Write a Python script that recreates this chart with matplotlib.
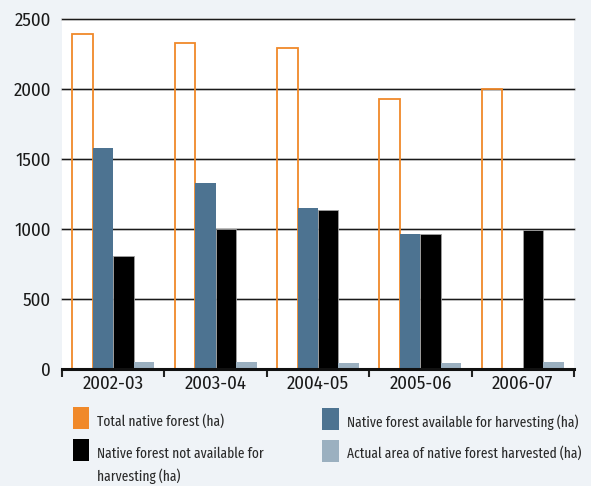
import matplotlib
matplotlib.use("Agg")
import matplotlib.pyplot as plt
import numpy as np
from matplotlib.patches import Rectangle

plt.rcParams['font.family'] = ['Fira Sans Condensed', 'DejaVu Sans']
LEG_FONT = ['Fira Sans Extra Condensed', 'Fira Sans Condensed', 'DejaVu Sans']

categories = ["2002-03", "2003-04", "2004-05", "2005-06", "2006-07"]
total_native = [2390, 2325, 2290, 1930, 2000]
available = [1580, 1325, 1150, 965, 0]
not_available = [810, 1000, 1135, 965, 995]
harvested = [50, 48, 45, 45, 48]
series_labels = ["Total native forest (ha)",
                 "Native forest available for harvesting (ha)",
                 "Native forest not available for\nharvesting (ha)",
                 "Actual area of native forest harvested (ha)"]
yticks = [0, 500, 1000, 1500, 2000, 2500]

bg = '#eff3f7'
c_orange = '#f0892a'
c_blue = '#4d7391'
c_black = '#000000'
c_light = '#9bb0c0'
txt_c = '#1a1a1a'

fig = plt.figure(figsize=(5.91, 4.86), dpi=100, facecolor=bg)
ax = fig.add_axes([62/591, 117/486, 512/591, 350/486])
ax.set_facecolor('white')

x = np.arange(len(categories))
w = 0.2
ax.bar(x - 1.5*w, total_native, w, facecolor='none', edgecolor=c_orange, linewidth=1.3, zorder=3)
ax.bar(x - 0.5*w, available, w, color=c_blue, zorder=3)
ax.bar(x + 0.5*w, not_available, w, color=c_black, edgecolor='#a0a0a0', linewidth=0.6, zorder=3)
ax.bar(x + 1.5*w, harvested, w, color=c_light, zorder=3)

for v in yticks[1:]:
    ax.axhline(v, color='#cfcfcf', lw=2.0, zorder=1, clip_on=False)
    ax.axhline(v, color='#1a1a1a', lw=0.9, zorder=2, clip_on=False)

ax.set_xlim(-0.5, len(categories) - 0.5)
ax.set_ylim(0, 2500)
ax.set_yticks(yticks)
ax.set_yticklabels([str(v) for v in yticks], fontsize=13.5, color=txt_c)
ax.tick_params(axis='y', length=0, pad=8)
ax.set_xticks(x)
ax.set_xticklabels(categories, fontsize=13.5, color=txt_c)
ax.tick_params(axis='x', length=0, pad=4)
ax.set_xticks(np.arange(len(categories) + 1) - 0.5, minor=True)
ax.tick_params(axis='x', which='minor', length=6, width=1.5, color='#222222')

for s in ['left', 'right', 'top']:
    ax.spines[s].set_visible(False)
ax.spines['bottom'].set_linewidth(2.2)
ax.spines['bottom'].set_color('#111111')
ax.spines['bottom'].set_zorder(4)

# legend
def swatch(px, py, color):
    fig.patches.append(Rectangle((px/591, 1 - (py + 22)/486), 16.5/591, 22/486,
                                 transform=fig.transFigure, facecolor=color,
                                 edgecolor='none'))

fs = 10.5
lc = '#2a2a2a'
swatch(72.7, 407, c_orange)
fig.text(96.7/591, 1 - 421.5/486, series_labels[0], fontsize=fs, va='center', ha='left', color=lc, family=LEG_FONT)
swatch(322, 408, c_blue)
fig.text(346.7/591, 1 - 422.5/486, series_labels[1], fontsize=fs, va='center', ha='left', color=lc, family=LEG_FONT)
swatch(72.7, 439, c_black)
fig.text(96.7/591, 1 - 453.5/486, "Native forest not available for", fontsize=fs, va='center', ha='left', color=lc, family=LEG_FONT)
fig.text(96.7/591, 1 - 476.5/486, "harvesting (ha)", fontsize=fs, va='center', ha='left', color=lc, family=LEG_FONT)
swatch(322, 440, c_light)
fig.text(346.7/591, 1 - 453/486, series_labels[3], fontsize=fs, va='center', ha='left', color=lc, family=LEG_FONT)

fig.savefig('out.png', dpi=100, facecolor=bg)
